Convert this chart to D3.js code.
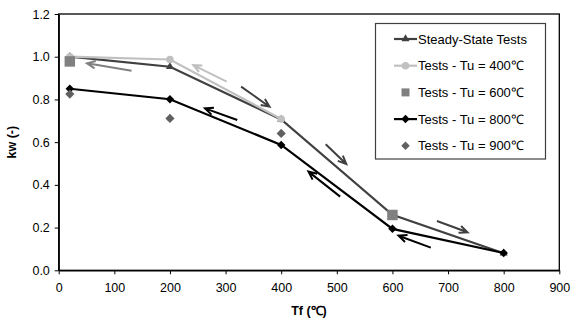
<!DOCTYPE html>
<html>
<head>
<meta charset="utf-8">
<script src="https://cdn.jsdelivr.net/npm/d3@7"></script>
<style>
  body { margin: 0; background: #fff; }
  text { font-family: "Liberation Sans", Arial, sans-serif; }
</style>
</head>
<body>
<div id="chart"></div>
<script>
// Data (Tf in degC, kw dimensionless)
const steadyTf = [20, 200, 400, 600, 800];
const steadyKw = [1.0, 0.953, 0.706, 0.26, 0.08];
const tu400Tf = [20, 200, 400];
const tu400Kw = [1.0, 0.987, 0.708];
const tu600Tf = [20, 600];
const tu600Kw = [0.978, 0.259];
const tu800Tf = [20, 200, 400, 600, 800];
const tu800Kw = [0.85, 0.801, 0.587, 0.194, 0.081];
const tu900Tf = [20, 200, 400];
const tu900Kw = [0.825, 0.711, 0.641];

const xTicks = [0, 100, 200, 300, 400, 500, 600, 700, 800, 900];
const yTicks = [0, 0.2, 0.4, 0.6, 0.8, 1.0, 1.2];

const legendLabels = ['Steady-State Tests', 'Tests - Tu = 400\u2103', 'Tests - Tu = 600\u2103',
  'Tests - Tu = 800\u2103', 'Tests - Tu = 900\u2103'];

// Arrows: [fromTf, fromKw, toTf, toKw, colour]
const arrows = [
  [131, 0.934, 51, 0.969, '#808080'],
  [302, 0.883, 242, 0.961, '#c0c0c0'],
  [328, 0.860, 379, 0.766, '#404040'],
  [321, 0.704, 263, 0.758, '#000'],
  [480, 0.590, 517, 0.498, '#404040'],
  [506, 0.345, 449, 0.462, '#000'],
  [680, 0.231, 735, 0.178, '#404040'],
  [669, 0.106, 611, 0.162, '#000']
];

const width = 571, height = 324;
const fontSize = 12.5;
const legendFont = 13;
const svg = d3.select('#chart').append('svg')
  .attr('width', width).attr('height', height);

const x = d3.scaleLinear().domain([0, 900]).range([58.7, 559.3]);
const y = d3.scaleLinear().domain([0, 1.2]).range([270.3, 14]);

// plot frame
svg.append('rect')
  .attr('x', x(0)).attr('y', y(1.2))
  .attr('width', x(900) - x(0)).attr('height', y(0) - y(1.2))
  .attr('fill', 'none').attr('stroke', '#000').attr('stroke-width', 1.3);

// axes
const xAxis = svg.append('g').attr('transform', `translate(0,${y(0)})`)
  .call(d3.axisBottom(x).tickValues(xTicks).tickSize(4).tickSizeOuter(0).tickFormat(d3.format('d')));
const yAxis = svg.append('g').attr('transform', `translate(${x(0)},0)`)
  .call(d3.axisLeft(y).tickValues(yTicks).tickSize(4).tickSizeOuter(0).tickFormat(d3.format('.1f')));
[xAxis, yAxis].forEach(a => {
  a.attr('font-family', null).attr('font-size', null);
  a.select('.domain').attr('stroke-width', 1.3);
  a.selectAll('text').attr('font-size', fontSize).attr('fill', '#000');
});
xAxis.selectAll('text').attr('dy', '1.2em');
yAxis.selectAll('text').attr('dx', '-0.15em');

// axis titles
svg.append('text').attr('x', (x(0) + x(900)) / 2).attr('y', 315)
  .attr('text-anchor', 'middle').attr('font-size', fontSize).attr('font-weight', 'bold')
  .text('Tf (\u2103)');
svg.append('text').attr('transform', `translate(16,${(y(0) + y(1.2)) / 2}) rotate(-90)`)
  .attr('text-anchor', 'middle').attr('font-size', fontSize).attr('font-weight', 'bold')
  .text('kw (-)');

const line = d3.line().x(d => x(d[0])).y(d => y(d[1]));
const zip = (a, b) => a.map((v, i) => [v, b[i]]);

const tri = d3.symbol().type(d3.symbolTriangle).size(28);
const circ = d3.symbol().type(d3.symbolCircle).size(45);
const sq = d3.symbol().type(d3.symbolSquare).size(110);
const dia = d3.symbol().type(d3.symbolSquare).size(36);   // rotated 45deg below

function drawPoints(pts, sym, fill, rot = 0) {
  svg.append('g').selectAll('path').data(pts).join('path')
    .attr('transform', d => `translate(${x(d[0])},${y(d[1])}) rotate(${rot})`)
    .attr('d', sym).attr('fill', fill);
}

// steady state
const steady = zip(steadyTf, steadyKw);
svg.append('path').datum(steady).attr('d', line)
  .attr('fill', 'none').attr('stroke', '#404040').attr('stroke-width', 2.2);
drawPoints(steady, tri, '#404040');

// Tu = 400
const t400 = zip(tu400Tf, tu400Kw);
svg.append('path').datum(t400).attr('d', line)
  .attr('fill', 'none').attr('stroke', '#c0c0c0').attr('stroke-width', 2.2);
drawPoints(t400, circ, '#c0c0c0');

// Tu = 800
const t800 = zip(tu800Tf, tu800Kw);
svg.append('path').datum(t800).attr('d', line)
  .attr('fill', 'none').attr('stroke', '#000').attr('stroke-width', 2.2);
drawPoints(t800, dia, '#000', 45);

// Tu = 600 (markers only)
drawPoints(zip(tu600Tf, tu600Kw), sq, '#808080');

// Tu = 900 (markers only)
drawPoints(zip(tu900Tf, tu900Kw), d3.symbol().type(d3.symbolSquare).size(42), '#606060', 45);

// arrows
const arrowG = svg.append('g');
arrows.forEach(([x0, y0, x1, y1, c]) => {
  const px0 = x(x0), py0 = y(y0), px1 = x(x1), py1 = y(y1);
  const ang = Math.atan2(py1 - py0, px1 - px0);
  const L = 9, spread = 0.42;
  const a1 = [px1 - L * Math.cos(ang - spread), py1 - L * Math.sin(ang - spread)];
  const a2 = [px1 - L * Math.cos(ang + spread), py1 - L * Math.sin(ang + spread)];
  arrowG.append('path')
    .attr('d', `M${px0},${py0}L${px1},${py1}M${a1[0]},${a1[1]}L${px1},${py1}L${a2[0]},${a2[1]}`)
    .attr('fill', 'none').attr('stroke', c).attr('stroke-width', 2)
    .attr('stroke-linejoin', 'miter').attr('stroke-linecap', 'butt');
});

// legend
const lg = svg.append('g');
lg.append('rect').attr('x', 375.5).attr('y', 23.5).attr('width', 170).attr('height', 135.5)
  .attr('fill', '#fff').attr('stroke', '#404040').attr('stroke-width', 1.2);
const legendStyles = [
  { line: '#404040', sym: tri, fill: '#404040', rot: 0 },
  { line: '#c0c0c0', sym: circ, fill: '#c0c0c0', rot: 0 },
  { line: null, sym: d3.symbol().type(d3.symbolSquare).size(64), fill: '#808080', rot: 0 },
  { line: '#000', sym: dia, fill: '#000', rot: 45 },
  { line: null, sym: d3.symbol().type(d3.symbolSquare).size(36), fill: '#606060', rot: 45 }
];
legendLabels.forEach((label, i) => {
  const yy = 39 + i * 26.7;
  const s = legendStyles[i];
  if (s.line) {
    lg.append('line').attr('x1', 394).attr('x2', 417).attr('y1', yy).attr('y2', yy)
      .attr('stroke', s.line).attr('stroke-width', 2.2);
  }
  lg.append('path').attr('transform', `translate(405.5,${yy}) rotate(${s.rot})`)
    .attr('d', s.sym).attr('fill', s.fill);
  lg.append('text').attr('x', 418).attr('y', yy).attr('dy', '0.35em')
    .attr('font-size', legendFont).attr('fill', '#000').text(label);
});
</script>
</body>
</html>
